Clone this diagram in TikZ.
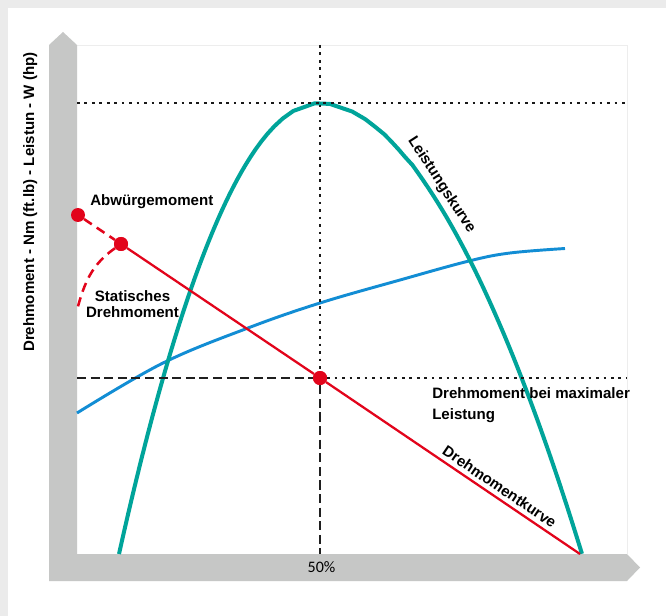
\documentclass[tikz,border=0pt]{standalone}
\usepackage{fontspec}
\setmainfont{Liberation Sans}
\newfontfamily\prozfont{Carlito}
\definecolor{leistfarbe}{RGB}{0,164,154}
\definecolor{kurveblau}{RGB}{18,141,212}
\definecolor{momentrot}{RGB}{226,4,27}
\definecolor{achsgrau}{RGB}{198,199,198}
\definecolor{randgrau}{RGB}{235,235,235}
\begin{document}
\begin{tikzpicture}[x=0.75pt,y=-0.75pt,
	lbl/.style={font=\bfseries\fontsize{11.3}{15.5}\selectfont,inner sep=0pt,text=black},
	punkt/.style={circle,fill=momentrot,inner sep=0pt,minimum size=10.5pt},
	punktiert/.style={line width=2pt,dash pattern=on 2pt off 3.6pt,black!90},
	gestrichelt/.style={line width=1.9pt,dash pattern=on 6.8pt off 3.4pt,black!88},
	rotgestr/.style={line width=1.9pt,dash pattern=on 7pt off 4.5pt,momentrot}]
	\def\xo{77} % Ursprung
	\def\yo{554}
	\def\xr{627} % rechter Rand
	\useasboundingbox (0,0) rectangle (666,616);
	\fill[randgrau] (0,0) rectangle (666,616);
	\fill[white] (8,8) rectangle (666,616);
	\draw[line width=0.4pt,black!7] (\xo,45) -- (\xr,45) -- (\xr,\yo);
	% Achsen
	\fill[achsgrau] (49,581) -- (49,45) -- (63,32) -- (\xo,45) -- (\xo,\yo) -- (\xr,\yo) -- (640,567.5) -- (\xr,581) -- cycle;
	\node[lbl,rotate=90,anchor=base] (yachse) at (34,202) {Drehmoment - Nm (ft.lb) - Leistun - W (hp)};
	\node[font=\prozfont\fontsize{12}{14}\selectfont,inner sep=0pt,anchor=base] (halb) at (321.5,572) {50\%};
	% Punkte
	\coordinate (P) at (320,103); % Maximum der Leistung
	\coordinate (E) at (580,554);
	\coordinate (S) at (77,310);
	\node[punkt] (abw) at (78,215) {};
	\node[punkt] (stat) at (121,244) {};
	\node[punkt] (mp) at (320,378) {};
	% Kurven
	\draw[line width=2.2pt,kurveblau] plot[smooth,tension=0.6] coordinates {(77,413) (163,363) (248,328) (320,303) (400,280) (469,261) (510,253) (565,248.5)};
	\draw[line width=3pt,leistfarbe] plot[domain=1:0,samples=60] ({320-201*sqrt(\x)},{103+451*\x}) -- plot[domain=0.002:1,samples=60] ({320+262*(\x)^0.53},{103+451*\x});
	\draw[line width=1.7pt,momentrot] (stat) -- (mp) -- node[lbl,sloped,above=3pt,pos=0.66] (dkurve) {Drehmomentkurve} (E);
	\draw[rotgestr] (abw) -- (stat);
	\draw[rotgestr] (stat) to[out=215,in=75] (S);
	% Hilfslinien
	\draw[gestrichelt] (\xo,378) -- (mp) -- (320,\yo);
	\draw[punktiert] (\xo,103) -- (\xr,103);
	\draw[punktiert] (320,45) -- (mp);
	\draw[punktiert] (mp) -- (\xr,378);
	\node[punkt] at (mp) {};
	\node[punkt] at (stat) {};
	% Beschriftung
	\node[lbl,anchor=base west] (abwtxt) at (90,206) {Abwürgemoment};
	\node[lbl,align=center,anchor=base,font=\bfseries\fontsize{11.3}{11.5}\selectfont] (stattxt) at (132.5,317) {Statisches\\Drehmoment};
	\node[lbl,align=left,anchor=base west] (maxtxt) at (432,419) {Drehmoment bei maximaler\\Leistung};
	\node[lbl,rotate=-57] (lkurve) at (441.5,185) {Leistungskurve};
\end{tikzpicture}
\end{document}
